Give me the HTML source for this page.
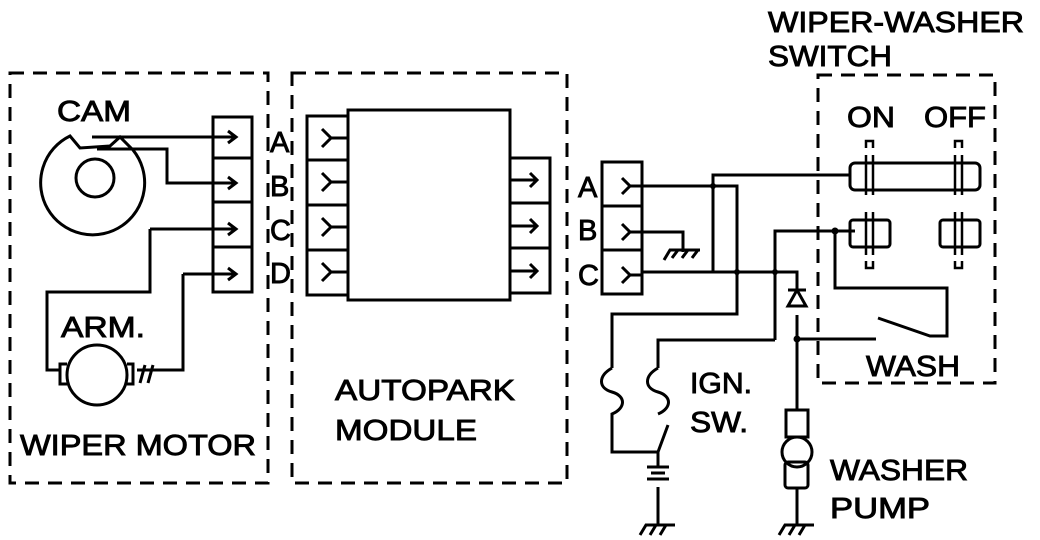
<!DOCTYPE html>
<html><head><style>html,body{margin:0;padding:0;background:#fff}svg{display:block}</style></head>
<body>
<svg width="1040" height="540" viewBox="0 0 1040 540" xmlns="http://www.w3.org/2000/svg" font-family="Liberation Sans, sans-serif" font-size="25" fill="none" stroke="#000" stroke-width="3">
<!-- dashed boxes -->
<g stroke-dasharray="14,9" stroke-width="3">
<rect x="10" y="73" width="258" height="410"/>
<rect x="292" y="73" width="275" height="410"/>
<rect x="818" y="75" width="177" height="308"/>
</g>
<!-- labels -->
<g fill="#000" stroke="#000" stroke-width="0.9" font-size="29">
<text x="768" y="32" textLength="256" lengthAdjust="spacingAndGlyphs">WIPER-WASHER</text>
<text x="768" y="66" textLength="124" lengthAdjust="spacingAndGlyphs">SWITCH</text>
<text x="57" y="121" textLength="74" lengthAdjust="spacingAndGlyphs">CAM</text>
<text x="61" y="337" textLength="84" lengthAdjust="spacingAndGlyphs">ARM.</text>
<text x="20" y="455" textLength="236" lengthAdjust="spacingAndGlyphs">WIPER MOTOR</text>
<text x="335" y="400" textLength="180" lengthAdjust="spacingAndGlyphs">AUTOPARK</text>
<text x="335" y="440" textLength="142" lengthAdjust="spacingAndGlyphs">MODULE</text>
<text x="270" y="152">A</text><text x="270" y="196">B</text><text x="270" y="240">C</text><text x="270" y="283">D</text>
<text x="578" y="197">A</text><text x="578" y="240">B</text><text x="578" y="285">C</text>
<text x="847" y="127" textLength="48" lengthAdjust="spacingAndGlyphs">ON</text><text x="924" y="127" textLength="62" lengthAdjust="spacingAndGlyphs">OFF</text>
<text x="866" y="376" textLength="94" lengthAdjust="spacingAndGlyphs">WASH</text>
<text x="690" y="393" textLength="62" lengthAdjust="spacingAndGlyphs">IGN.</text><text x="690" y="432" textLength="58" lengthAdjust="spacingAndGlyphs">SW.</text>
<text x="830" y="480" textLength="138" lengthAdjust="spacingAndGlyphs">WASHER</text><text x="830" y="518" textLength="100" lengthAdjust="spacingAndGlyphs">PUMP</text>
</g>
<!-- cam -->
<path d="M70 136 L80 148 L110 146 L120 137 L133 150 A52 52 0 1 1 70 136 Z"/>
<circle cx="95" cy="178" r="19"/>
<!-- motor connectors -->
<rect x="213" y="117" width="39" height="175"/>
<line x1="213" y1="158" x2="252" y2="158"/><line x1="213" y1="202" x2="252" y2="202"/><line x1="213" y1="247" x2="252" y2="247"/>
<path d="M92 137 L235 137 M228 131 L236 137 L228 143"/>
<path d="M97 149 L167 149 L167 183 L235 183 M228 177 L236 183 L228 189"/>
<path d="M150 229 L235 229 M228 223 L236 229 L228 235" />
<path d="M150 229 L150 292 L47 292 L47 370 L60 370"/>
<path d="M183 274 L183 370 L137 370 M183 274 L235 274 M228 268 L236 274 L228 280"/>
<!-- armature -->
<circle cx="97" cy="375" r="30"/>
<path d="M67 364 L60 364 L60 384 L67 384"/><path d="M127 364 L133 364 L133 384 L127 384"/>
<path d="M145 365 L140 383 M153 365 L148 383"/>
<!-- autopark -->
<rect x="348" y="110" width="162" height="190"/>
<rect x="307" y="116" width="41" height="179"/>
<line x1="307" y1="160" x2="348" y2="160"/><line x1="307" y1="205" x2="348" y2="205"/><line x1="307" y1="250" x2="348" y2="250"/>
<path d="M322 129 L331 138 L322 147 M331 138 L348 138"/>
<path d="M322 173 L331 182 L322 191 M331 182 L348 182"/>
<path d="M322 218 L331 227 L322 236 M331 227 L348 227"/>
<path d="M322 263 L331 272 L322 281 M331 272 L348 272"/>
<rect x="510" y="158" width="40" height="135"/>
<line x1="510" y1="203" x2="550" y2="203"/><line x1="510" y1="248" x2="550" y2="248"/>
<path d="M510 180 L536 180 M530 173 L537 180 L530 187"/>
<path d="M510 226 L536 226 M530 219 L537 226 L530 233"/>
<path d="M510 271 L536 271 M530 264 L537 271 L530 278"/>
<!-- right connectors -->
<rect x="602" y="162" width="40" height="132"/>
<line x1="602" y1="206" x2="642" y2="206"/><line x1="602" y1="250" x2="642" y2="250"/>
<path d="M622 178 L630 186 L622 194 M630 186 L642 186"/>
<path d="M622 224 L630 232 L622 240 M630 232 L642 232"/>
<path d="M622 267 L630 275 L622 283 M630 275 L642 275"/>
<!-- wiring -->
<path d="M642 186 L737 186 L737 314 L612 314 L612 368"/>
<path d="M713 186 L713 175 L850 175 M713 186 L713 272"/>
<path d="M642 232 L683 232 L683 252"/>
<path d="M664 260 L670 250 L700 250 M672 258 L678 250 M682 258 L688 250 M692 258 L698 250"/>
<path d="M642 272 L797 272 L797 290"/>
<path d="M775 340 L775 231 L855 231 M835 231 L835 288 L947 288 L947 336 L930 336 L878 318"/>
<path d="M775 340 L658 340 L658 368"/>
<path d="M797 315 L797 410 M797 339 L876 339"/>
<path d="M797 290 L788 306 L806 306 Z M788 290 L806 290"/>
<!-- fuses -->
<path d="M612 368 C598 376 598 388 612 392 C626 396 626 408 612 414 L612 452 L658 452"/>
<path d="M658 368 C644 376 644 388 658 392 C672 396 672 408 658 414"/>
<path d="M668 425 L658 452 L658 467"/>
<path d="M647 467 L669 467 M651 473 L665 473 M647 479 L669 479 M658 487 L658 525"/>
<path d="M640 535 L646 525 L675 525 M650 535 L656 525 M660 535 L666 525"/>
<!-- pump -->
<rect x="786" y="410" width="22" height="27"/>
<circle cx="797" cy="452" r="15"/>
<rect x="785" y="462" width="23" height="26" rx="3"/>
<path d="M797 488 L797 525"/>
<path d="M779 535 L785 525 L814 525 M789 535 L795 525 M799 535 L805 525"/>
<!-- switch -->
<rect x="850" y="163" width="130" height="27" rx="5"/>
<rect x="850" y="220" width="40" height="27" rx="3"/>
<rect x="940" y="220" width="40" height="27" rx="3"/>
<g stroke-width="2.5">
<path d="M866 155 L866 195 M873 155 L873 195 M866 212 L866 255 M873 212 L873 255"/>
<path d="M955 155 L955 195 M962 155 L962 195 M955 212 L955 255 M962 212 L962 255"/>
<path d="M866 148 L866 141 L873 141 L873 148 M955 148 L955 141 L962 141 L962 148"/>
<path d="M866 261 L866 268 L873 268 L873 261 M955 261 L955 268 L962 268 L962 261"/>
</g>
<g fill="#000" stroke="none">
<circle cx="713" cy="186" r="3"/><circle cx="737" cy="272" r="3"/><circle cx="775" cy="272" r="3"/><circle cx="835" cy="231" r="3.5"/><circle cx="797" cy="339" r="3.5"/>
</g>
</svg>
</body></html>
